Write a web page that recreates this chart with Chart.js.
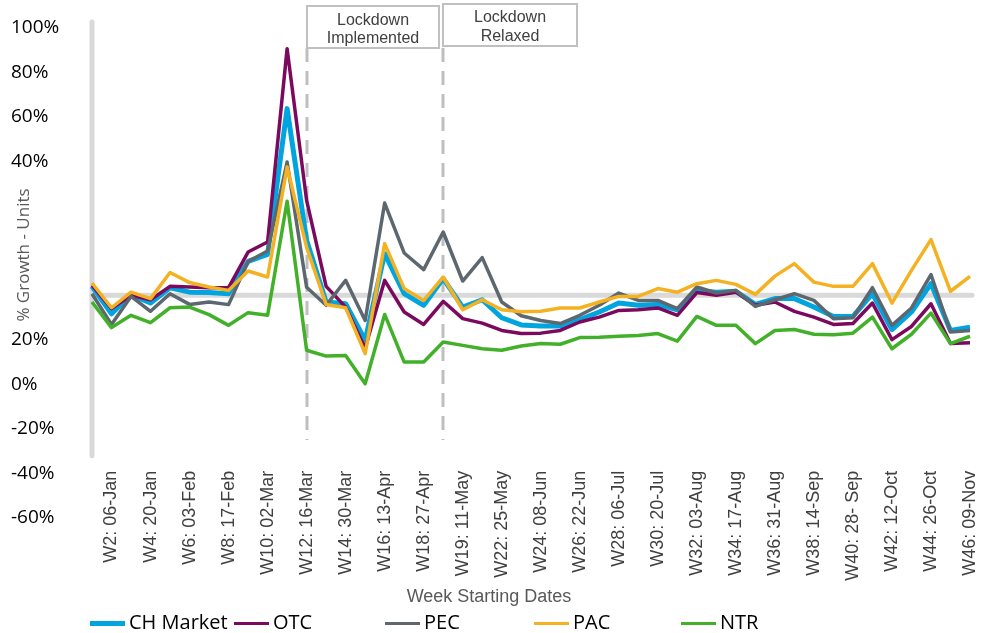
<!DOCTYPE html>
<html>
<head>
<meta charset="utf-8">
<script src="https://cdn.jsdelivr.net/npm/chart.js@4"></script>
<style>
  body { margin: 0; background: #fff; }
  #wrap { position: relative; width: 981px; height: 633px; }
  #legend { position: absolute; left: 0; top: 609px; width: 981px; height: 25px; font-family: "Open Sans", sans-serif; font-size: 20px; color: #000; }
  .legendItem { position: absolute; top: 0; white-space: nowrap; line-height: 25px; }
  .legendLine { display: inline-block; width: 35px; height: 4px; vertical-align: middle; margin-right: 4px; }
</style>
</head>
<body>
<div id="wrap">
  <canvas id="chartCanvas" width="981" height="633"></canvas>
  <div id="legend"></div>
</div>
<script>
const weeks = [
    "W1", "W2: 06-Jan", "W3", "W4: 20-Jan", "W5", "W6: 03-Feb", "W7", "W8: 17-Feb",
    "W9", "W10: 02-Mar", "W11", "W12: 16-Mar", "W13", "W14: 30-Mar", "W15", "W16: 13-Apr",
    "W17", "W18: 27-Apr", "W19", "W19: 11-May", "W21", "W22: 25-May", "W23", "W24: 08-Jun",
    "W25", "W26: 22-Jun", "W27", "W28: 06-Jul", "W29", "W30: 20-Jul", "W31", "W32: 03-Aug",
    "W33", "W34: 17-Aug", "W35", "W36: 31-Aug", "W37", "W38: 14-Sep", "W39", "W40: 28- Sep",
    "W41", "W42: 12-Oct", "W43", "W44: 26-Oct", "W45", "W46: 09-Nov"
];

const chMarket = [44.0, 31.7, 40.3, 36.5, 43.4, 41.4, 41.2, 40.7, 55.2, 58.4, 123.8, 64.7,
    37.0, 36.2, 19.8, 58.7, 40.7, 35.5, 47.5, 34.7, 38.0, 29.9, 26.7, 26.2,
    26.2, 29.1, 32.5, 36.5, 35.5, 35.9, 33.5, 42.2, 41.4, 41.8, 35.9, 38.5,
    38.5, 34.7, 30.5, 30.5, 40.7, 24.6, 32.5, 45.2, 24.2, 25.7];
const otc = [44.5, 34.0, 40.0, 38.0, 44.0, 43.7, 43.4, 43.4, 59.4, 63.9, 150.7, 82.6,
    44.0, 34.7, 16.2, 46.7, 32.5, 26.9, 37.3, 29.5, 27.5, 24.2, 22.8, 23.0,
    24.2, 28.0, 30.2, 33.2, 33.5, 34.3, 31.0, 41.2, 40.0, 41.4, 35.5, 37.0,
    32.8, 30.2, 26.9, 27.3, 36.5, 20.1, 26.0, 36.2, 18.3, 18.7];
const pec = [40.7, 26.9, 39.5, 32.8, 40.7, 35.9, 37.0, 35.8, 55.2, 59.9, 99.8, 43.6,
    35.5, 46.7, 28.7, 81.4, 59.0, 51.5, 68.4, 46.4, 56.9, 37.0, 30.8, 28.7,
    27.3, 31.0, 35.5, 41.0, 37.7, 37.7, 34.0, 43.7, 41.0, 42.2, 35.0, 38.0,
    40.7, 37.7, 29.5, 29.9, 43.4, 26.5, 34.3, 49.3, 23.5, 24.2];
const pac = [45.5, 34.4, 41.4, 38.5, 50.2, 45.7, 43.7, 42.2, 50.9, 48.2, 97.6, 61.5,
    35.9, 34.4, 13.8, 63.2, 43.0, 37.7, 48.2, 33.5, 38.0, 33.5, 32.6, 32.8,
    34.3, 34.3, 37.0, 39.5, 39.5, 43.0, 41.4, 45.2, 46.7, 44.9, 40.4, 48.6,
    54.2, 45.9, 44.0, 44.0, 54.2, 36.5, 51.2, 65.0, 41.8, 48.5];
const ntr = [37.0, 25.5, 31.0, 27.7, 34.4, 34.7, 31.3, 26.5, 32.2, 31.0, 82.2, 15.3,
    12.7, 13.0, 0.3, 31.4, 10.0, 10.0, 19.0, 17.5, 16.0, 15.3, 17.2, 18.3,
    18.0, 21.0, 21.2, 21.6, 21.9, 22.8, 19.4, 30.5, 26.5, 26.5, 18.3, 24.2,
    24.6, 22.5, 22.3, 23.0, 30.2, 16.0, 22.5, 32.0, 18.3, 21.6];

// tick labels from the bottom (-60) up to the top (160), as printed on the original
const yTickLabels = ["-60%", "-40%", "-20%", "0%", "20%", "", "", "", "40%", "60%", "80%", "100%"];

const seriesNames = ["CH Market", "OTC", "PEC", "PAC", "NTR"];
const seriesColors = ["#00a5df", "#7b0a5e", "#5c6770", "#f4b223", "#43b02a"];
const seriesWidths = [5, 3.5, 3.5, 3.5, 3.5];

const lockdownStart = 11;
const lockdownEnd = 18;
const baseLine = 40;
const xAxisAt = -32;

const legendLefts = [90, 234, 385, 534, 681];

const decorPlugin = {
    id: "decor",
    beforeDatasetsDraw(chart){
        const ctx = chart.ctx;
        const x = chart.scales.x, y = chart.scales.y;
        const area = chart.chartArea;

        ctx.save();
        ctx.strokeStyle = "#d9d9d9";
        ctx.lineWidth = 5;
        ctx.lineCap = "round";
        //axis bar
        ctx.beginPath();
        ctx.moveTo(area.left, area.top - 6);
        ctx.lineTo(area.left, y.getPixelForValue(xAxisAt));
        ctx.stroke();
        //base line
        ctx.beginPath();
        ctx.moveTo(area.left, y.getPixelForValue(baseLine));
        ctx.lineTo(area.right + 2, y.getPixelForValue(baseLine));
        ctx.stroke();

        //lockdown markers
        ctx.strokeStyle = "#bfbfbf";
        ctx.lineWidth = 3;
        ctx.lineCap = "butt";
        ctx.setLineDash([14, 9]);
        [lockdownStart, lockdownEnd].forEach(idx => {
            const px = Math.round(x.getPixelForValue(idx));
            ctx.beginPath();
            ctx.moveTo(px, 48);
            ctx.lineTo(px, 440);
            ctx.stroke();
        })
        ctx.restore();
    },
    afterDraw(chart){
        const ctx = chart.ctx;
        const x = chart.scales.x;
        const x1 = Math.round(x.getPixelForValue(lockdownStart));
        const x2 = Math.round(x.getPixelForValue(lockdownEnd));

        ctx.save();
        ctx.fillStyle = "#fff";
        ctx.strokeStyle = "#c0c0c0";
        ctx.lineWidth = 2;
        ctx.fillRect(x1, 6, x2 - 4 - x1, 42);
        ctx.strokeRect(x1, 6, x2 - 4 - x1, 42);
        ctx.fillRect(x2, 4, 134, 42);
        ctx.strokeRect(x2, 4, 134, 42);

        ctx.fillStyle = "#404040";
        ctx.font = "16px 'Liberation Sans', Arial, sans-serif";
        ctx.textAlign = "center";
        ctx.textBaseline = "middle";
        ctx.fillText("Lockdown", (x1 + x2 - 4) / 2, 21);
        ctx.fillText("Implemented", (x1 + x2 - 4) / 2, 39);
        ctx.fillText("Lockdown", x2 + 67, 18);
        ctx.fillText("Relaxed", x2 + 67, 37);

        //axis titles
        ctx.fillStyle = "#595959";
        ctx.font = "18px 'Liberation Sans', Arial, sans-serif";
        ctx.fillText("Week Starting Dates", 489, 597);

        ctx.font = "17px 'Open Sans', sans-serif";
        ctx.translate(24, 255);
        ctx.rotate(-Math.PI / 2);
        ctx.fillText("% Growth - Units", 0, 0);
        ctx.restore();
    }
};

initChart();
buildLegend();

function buildLegend(){
    const legend = document.getElementById("legend");
    seriesNames.forEach((name, i) => {
        legend.innerHTML += `<div class="legendItem" style="left:${legendLefts[i]}px"><span class="legendLine" style="background:${seriesColors[i]};height:${seriesWidths[i]}px"></span>${name}</div>`;
    })
}

function initChart(){
    const seriesData = [chMarket, otc, pec, pac, ntr];

    new Chart(document.getElementById("chartCanvas"), {
        type: "line",
        data: {
            labels: weeks,
            datasets: seriesData.map((d, i) => ({
                label: seriesNames[i],
                data: d,
                borderColor: seriesColors[i],
                borderWidth: seriesWidths[i],
                borderJoinStyle: "round",
                pointRadius: 0,
                tension: 0,
                order: seriesData.length - i
            }))
        },
        options: {
            responsive: false,
            animation: false,
            layout: { padding: { left: 11, right: 11, top: 28, bottom: 115 } },
            plugins: {
                legend: { display: false },
                tooltip: { enabled: false }
            },
            scales: {
                x: {
                    position: { y: xAxisAt },
                    offset: false,
                    grid: { display: false },
                    border: { display: false },
                    afterFit: (scale) => { scale.paddingLeft = 0; scale.paddingRight = 0; },
                    ticks: {
                        autoSkip: false,
                        minRotation: 90,
                        maxRotation: 90,
                        padding: 7,
                        color: "#404040",
                        font: { family: "'Liberation Sans', Arial, sans-serif", size: 18 },
                        callback: (val, index) => index % 2 === 1 ? weeks[index] : null
                    }
                },
                y: {
                    min: -60,
                    max: 160,
                    grid: { display: false },
                    border: { display: false },
                    afterFit: (scale) => { scale.width = 81; },
                    ticks: {
                        stepSize: 20,
                        autoSkip: false,
                        crossAlign: "far",
                        color: "#000",
                        font: { family: "'Open Sans', sans-serif", size: 19 },
                        callback: (val, index) => yTickLabels[index]
                    }
                }
            }
        },
        plugins: [decorPlugin]
    });
}
</script>
</body>
</html>
